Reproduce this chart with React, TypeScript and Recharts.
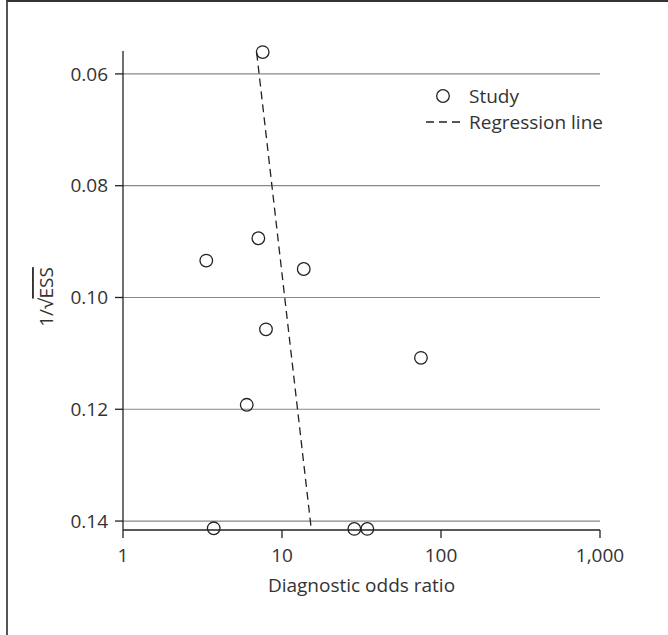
import { ScatterChart, Scatter, XAxis, YAxis, ReferenceLine } from 'recharts';

const studyOR = [7.56, 7.1, 3.34, 13.7, 7.93, 74.8, 6.0, 3.72, 28.5, 34.4];
const studyInvSqrtESS = [0.0561, 0.0894, 0.0934, 0.0949, 0.1057, 0.1108, 0.1192, 0.1413, 0.1414, 0.1414];
const regressionOR = [6.93, 15.3];
const regressionInvSqrtESS = [0.0562, 0.1416];
const xTicks = [1, 10, 100, 1000];
const yTicks = [0.06, 0.08, 0.1, 0.12, 0.14];

const studies = studyOR.map((x, i) => ({ x, y: studyInvSqrtESS[i] }));
const regression = regressionOR.map((x, i) => ({ x, y: regressionInvSqrtESS[i] }));

const FONT = '"Open Sans", "Noto Sans", sans-serif';
const TEXT = '#333';
const FS = 19;

const OpenCircle = (props: any) => (
  <circle cx={props.cx} cy={props.cy} r={6.3} fill="none" stroke="#222" strokeWidth={1.3} />
);

// legend sits inside the plot, so it is laid over the chart instead of taking space from it
const LegendBox = () => (
  <div
    style={{
      position: 'absolute',
      left: 424,
      top: 83,
      fontFamily: FONT,
      fontSize: FS,
      color: TEXT,
      lineHeight: '26px',
    }}
  >
    <div style={{ display: 'flex', alignItems: 'center' }}>
      <svg width={45} height={16}>
        <circle cx={19} cy={8} r={6.3} fill="none" stroke="#222" strokeWidth={1.3} />
      </svg>
      <span>Study</span>
    </div>
    <div style={{ display: 'flex', alignItems: 'center' }}>
      <svg width={45} height={16}>
        <line x1={2} y1={8} x2={36} y2={8} stroke="#222" strokeWidth={1.3} strokeDasharray="8 5" />
      </svg>
      <span>Regression line</span>
    </div>
  </div>
);

export default function App() {
  return (
    <div style={{ position: 'fixed', left: 0, top: 0, width: 668, height: 635, background: '#fff' }}>
      <div
        style={{
          position: 'absolute',
          left: 6,
          top: 0,
          width: 680,
          height: 650,
          borderLeft: '2px solid #555',
          borderTop: '2px solid #333',
        }}
      />
      <ScatterChart
        width={668}
        height={635}
        margin={{ top: 51, right: 68, bottom: 45, left: 63 }}
        style={{ fontFamily: FONT, position: 'absolute', left: 0, top: 0 }}
      >
        <XAxis
          type="number"
          dataKey="x"
          scale="log"
          domain={[1, 1000]}
          ticks={xTicks}
          height={60}
          tickSize={8}
          tickMargin={11}
          tickFormatter={(v: number) => v.toLocaleString('en-US')}
          tick={{ fill: TEXT, fontSize: FS }}
          axisLine={{ stroke: '#222', strokeWidth: 1.3 }}
          tickLine={{ stroke: '#222', strokeWidth: 1.3 }}
          label={{
            content: () => (
              <text x={361.5} y={585} textAnchor="middle" dominantBaseline="central" fill={TEXT} fontSize={FS}>
                Diagnostic odds ratio
              </text>
            ),
          }}
        />
        <YAxis
          type="number"
          dataKey="y"
          reversed
          domain={[0.0559, 0.1416]}
          ticks={yTicks}
          width={60}
          tickSize={8}
          tickMargin={7}
          tickFormatter={(v: number) => v.toFixed(2)}
          tick={{ fill: TEXT, fontSize: FS }}
          axisLine={{ stroke: '#222', strokeWidth: 1.3 }}
          tickLine={{ stroke: '#222', strokeWidth: 1.3 }}
          label={{
            content: () => (
              <text
                transform="translate(46,297) rotate(-90)"
                textAnchor="middle"
                dominantBaseline="central"
                fill={TEXT}
                fontSize={FS}
              >
                1/√<tspan style={{ textDecoration: 'overline' }}>ESS</tspan>
              </text>
            ),
          }}
        />
        {yTicks.map((t) => (
          <ReferenceLine key={t} y={t} stroke="#888" strokeWidth={1.2} />
        ))}
        <Scatter
          data={regression}
          line={{ stroke: '#222', strokeWidth: 1.3, strokeDasharray: '8 5' }}
          shape={() => <g />}
          isAnimationActive={false}
          legendType="none"
        />
        <Scatter data={studies} shape={OpenCircle} isAnimationActive={false} />
      </ScatterChart>
      <LegendBox />
    </div>
  );
}
